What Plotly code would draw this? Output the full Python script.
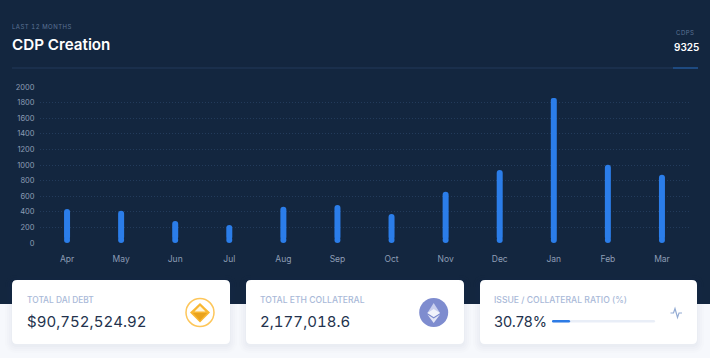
import json
import plotly.graph_objects as go

months = ["Apr","May","Jun","Jul","Aug","Sep","Oct","Nov","Dec","Jan","Feb","Mar"]
cdps = [435,415,282,232,465,487,372,658,936,1860,1004,876]
y_ticks = [0,200,400,600,800,1000,1200,1400,1600,1800,2000]
cards = [("TOTAL DAI DEBT","$90,752,524.92"),("TOTAL ETH COLLATERAL","2,177,018.6"),("ISSUE / COLLATERAL RATIO (%)","30.78%")]
ratio = 30.78

W,H=710,358
L,R,T,B=40,689,87,243
FONT="Inter"
def fx(x): return (x-L)/(R-L)
def fy(y): return (B-y)/(B-T)
shapes=[]
def rect(x0,y0,x1,y1,color,layer="below"):
    shapes.append(dict(type="rect",xref="paper",yref="paper",x0=fx(x0),x1=fx(x1),y0=fy(y0),y1=fy(y1),fillcolor=color,line=dict(width=0),layer=layer))
def rrect(x0,y0,x1,y1,r,color,layer="below"):
    p=(f"M{fx(x0+r)},{fy(y0)} L{fx(x1-r)},{fy(y0)} Q{fx(x1)},{fy(y0)} {fx(x1)},{fy(y0+r)} "
       f"L{fx(x1)},{fy(y1-r)} Q{fx(x1)},{fy(y1)} {fx(x1-r)},{fy(y1)} L{fx(x0+r)},{fy(y1)} "
       f"Q{fx(x0)},{fy(y1)} {fx(x0)},{fy(y1-r)} L{fx(x0)},{fy(y0+r)} Q{fx(x0)},{fy(y0)} {fx(x0+r)},{fy(y0)} Z")
    shapes.append(dict(type="path",xref="paper",yref="paper",path=p,fillcolor=color,line=dict(width=0),layer=layer))
def circle(cx,cy,r,color,line=None):
    shapes.append(dict(type="circle",xref="paper",yref="paper",x0=fx(cx-r),x1=fx(cx+r),y0=fy(cy+r),y1=fy(cy-r),fillcolor=color,line=line or dict(width=0),layer="above"))
def poly(pts,color,closed=True,line=None):
    p="M"+" L".join(f"{fx(a)},{fy(b)}" for a,b in pts)+(" Z" if closed else "")
    shapes.append(dict(type="path",xref="paper",yref="paper",path=p,fillcolor=color if closed else "rgba(0,0,0,0)",line=line or dict(width=0),layer="above"))

# backgrounds
rect(0,0,W,304,"#13263f")
rect(0,304,W,H,"#f6f8fc")
rect(12,67,W-12,69,"#1a2f4c")
rect(673,67,698,69,"#1e4a80")
# cards
for x0,x1 in [(12,230),(246,464),(480,697)]:
    for g,a in [(7,.012),(5,.014),(3,.016),(1,.02)]:
        rrect(x0-g,280-g+2,x1+g,344+g+2,5+g,f"rgba(60,80,120,{a})")
    rrect(x0,280,x1,344,5,"#ffffff")
# DAI icon
circle(200,312.5,14,"#ffffff",dict(color="#fdc65a",width=1.5))
poly([(200,303),(210,312.5),(200,322.5),(190,312.5)],"#f9b731")
poly([(200,306),(205.5,311.5),(194.5,311.5)],"#fff6dc")
poly([(193,313),(207,313),(200,320.5)],"#e9a21c")
# ETH icon
circle(433.7,312.5,14.5,"#7e8ccf")
poly([(433.7,303),(440,313),(433.7,317),(427.4,313)],"#c9cfee")
poly([(433.7,309),(440,313),(433.7,317),(427.4,313)],"#f1f3fb")
poly([(433.7,318.5),(440,314.5),(433.7,323),(427.4,314.5)],"#e2e5f6")
# pulse icon
poly([(670.5,313),(673.5,313),(675,308.5),(677.5,317.5),(679,313),(682,313)],"",False,dict(color="#93abd3",width=1.2))
# progress
bx0,bx1=552,655
rrect(bx0,320,bx1,322.5,1.2,"#e9eef7","above")
rrect(bx0,320,bx0+(bx1-bx0)*ratio/100*0.57,322.5,1.2,"#2d7be5","above")

BAR_R=3*2000/(B-T)  # end-cap radius in data units
fig=go.Figure()
fig.add_bar(x=months,y=[v-BAR_R for v in cdps],base=BAR_R,width=6/54.08,marker=dict(color="#2b7de9",line=dict(width=0),cornerradius=3),cliponaxis=False)
fig.add_scatter(x=months,y=[BAR_R]*12,mode="markers",marker=dict(color="#2b7de9",size=6,line=dict(width=0)),cliponaxis=False)

ann=[]; spacing={}
def text(x,y,s,size,color,weight=400,anchor="left",sp=0,font=FONT):
    ann.append(dict(xref="paper",yref="paper",x=fx(x),y=fy(y),text=s,showarrow=False,xanchor=anchor,yanchor="middle",
                    xshift=-2 if anchor=="left" else 0,font=dict(family=font,size=size,color=color,weight=weight)))
    if sp: spacing[s]=[sp,1 if anchor=="left" else 0]
text(12,26.5,"LAST 12 MONTHS",6,"#5c7395",400,sp=.5)
text(12,44,"CDP Creation",15.2,"#ffffff",600)
text(685.5,33,"CDPS",6,"#5c7395",400,"center",sp=.5)
text(686,47,"9325",10,"#ffffff",600,"center")
text(27,300,cards[0][0],8.4,"#a9b9d8",500)
text(27,321,cards[0][1],15,"#23324d",sp=.04)
text(260,300,cards[1][0],8.6,"#a9b9d8",500)
text(260,321,cards[1][1],15,"#23324d",sp=.04)
text(494,300,cards[2][0],8.6,"#a9b9d8",500)
text(494,321,cards[2][1],14.5,"#23324d")

fig.update_layout(width=W,height=H,margin=dict(l=L,r=W-R,t=T,b=H-B,autoexpand=False),
    paper_bgcolor="#13263f",plot_bgcolor="rgba(0,0,0,0)",showlegend=False,shapes=shapes,annotations=ann,
    font=dict(family=FONT,size=9,color="#8d9db5"))
fig.update_xaxes(type="category",categoryorder="array",categoryarray=months,range=[-.5,11.5],showgrid=False,zeroline=False,showline=False,
    ticks="outside",ticklen=8,tickcolor="rgba(0,0,0,0)",tickfont=dict(size=8.5,color="#8d9db5"))
fig.update_yaxes(range=[0,2000],tickvals=y_ticks,showgrid=True,gridcolor="#233b5b",griddash="1px,2px",gridwidth=1,zeroline=False,showline=False,
    ticks="outside",ticklen=3,tickcolor="rgba(0,0,0,0)",tickfont=dict(size=7.5,color="#8d9db5"))
post=("document.body.style.margin='0';document.body.style.background='#f6f8fc';"
      "var sp="+json.dumps(spacing)+";"
      "document.querySelectorAll('.annotation-text').forEach(function(t){var s=sp[t.textContent];"
      "if(s){var w0=t.getBBox().width;t.style.letterSpacing=s[0]+'px';t.style.fontFeatureSettings='\"tnum\"';"
      "var w1=t.getBBox().width;if(s[1]){t.setAttribute('x',parseFloat(t.getAttribute('x'))+(w1-w0)/2);}}});")
fig.write_html("out.html",config=dict(displayModeBar=False),post_script=post)
